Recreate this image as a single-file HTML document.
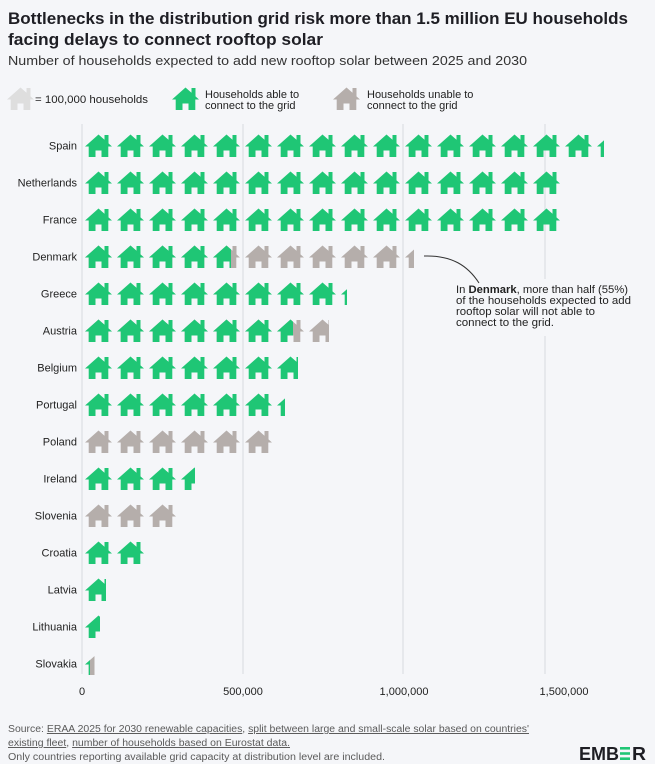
<!DOCTYPE html>
<html>
<head>
<meta charset="utf-8">
<style>
  html, body { margin: 0; padding: 0; background: #f5f6f9; }
  svg { display: block; font-family: "Liberation Sans", sans-serif; }
</style>
</head>
<body>
<svg width="655" height="764" viewBox="0 0 655 764" xmlns="http://www.w3.org/2000/svg">
  <defs>
    <path id="house" d="M0,12.5 L13.5,0.5 L19.5,5.8 L19.5,1 L23.5,1 L23.5,9.4 L27,12.5 L23.3,12.5 L23.3,23 L16.5,23 L16.5,16.5 L10.5,16.5 L10.5,23 L3.7,23 L3.7,12.5 Z"/>
    <pattern id="pg" patternUnits="userSpaceOnUse" x="85" y="0" width="32" height="23">
      <use href="#house" fill="#1fc675"/>
    </pattern>
    <pattern id="pr" patternUnits="userSpaceOnUse" x="85" y="0" width="32" height="23">
      <use href="#house" fill="#b5aeab"/>
    </pattern>
  </defs>

  <rect x="0" y="0" width="655" height="764" fill="#f5f6f9"/>

  <!-- Title -->
  <text x="8" y="24" font-size="16.5" font-weight="700" fill="#1e1e24" textLength="620" lengthAdjust="spacingAndGlyphs">Bottlenecks in the distribution grid risk more than 1.5 million EU households</text>
  <text x="8" y="45" font-size="16.5" font-weight="700" fill="#1e1e24" textLength="315" lengthAdjust="spacingAndGlyphs">facing delays to connect rooftop solar</text>
  <text x="8" y="65" font-size="13" fill="#333" textLength="519" lengthAdjust="spacingAndGlyphs">Number of households expected to add new rooftop solar between 2025 and 2030</text>

  <!-- Legend -->
  <use href="#house" fill="#dedede" transform="translate(7,87)"/>
  <text x="35" y="103" font-size="11" fill="#222" textLength="113" lengthAdjust="spacingAndGlyphs">= 100,000 households</text>
  <use href="#house" fill="#1fc675" transform="translate(172,87)"/>
  <text x="205" y="98" font-size="11" fill="#222">Households able to</text>
  <text x="205" y="109" font-size="11" fill="#222">connect to the grid</text>
  <use href="#house" fill="#b5aeab" transform="translate(333,87)"/>
  <text x="367" y="98" font-size="11" fill="#222">Households unable to</text>
  <text x="367" y="109" font-size="11" fill="#222">connect to the grid</text>

  <!-- Gridlines -->
  <g stroke="#d6d9df" stroke-width="1">
    <line x1="82" y1="124" x2="82" y2="674"/>
    <line x1="243" y1="124" x2="243" y2="674"/>
    <line x1="403" y1="124" x2="403" y2="674"/>
    <line x1="545" y1="124" x2="545" y2="674"/>
  </g>

  <!-- Country labels -->
  <g font-size="11" fill="#222" text-anchor="end">
    <text x="77" y="149.5">Spain</text>
    <text x="77" y="186.5">Netherlands</text>
    <text x="77" y="223.5">France</text>
    <text x="77" y="260.5">Denmark</text>
    <text x="77" y="297.5">Greece</text>
    <text x="77" y="334.5">Austria</text>
    <text x="77" y="371.5">Belgium</text>
    <text x="77" y="408.5">Portugal</text>
    <text x="77" y="445.5">Poland</text>
    <text x="77" y="482.5">Ireland</text>
    <text x="77" y="519.5">Slovenia</text>
    <text x="77" y="556.5">Croatia</text>
    <text x="77" y="593.5">Latvia</text>
    <text x="77" y="630.5">Lithuania</text>
    <text x="77" y="667.5">Slovakia</text>
  </g>

  <!-- House rows -->
  <g transform="translate(0,134)"><rect x="85" y="0" width="519" height="23" fill="url(#pg)"/></g>
  <g transform="translate(0,171)"><rect x="85" y="0" width="480" height="23" fill="url(#pg)"/></g>
  <g transform="translate(0,208)"><rect x="85" y="0" width="480" height="23" fill="url(#pg)"/></g>
  <g transform="translate(0,245)">
    <rect x="85" y="0" width="329" height="23" fill="url(#pr)"/>
    <rect x="85" y="0" width="146" height="23" fill="url(#pg)"/>
  </g>
  <g transform="translate(0,282)"><rect x="85" y="0" width="262" height="23" fill="url(#pg)"/></g>
  <g transform="translate(0,319)">
    <rect x="85" y="0" width="244" height="23" fill="url(#pr)"/>
    <rect x="85" y="0" width="208" height="23" fill="url(#pg)"/>
  </g>
  <g transform="translate(0,356)"><rect x="85" y="0" width="213" height="23" fill="url(#pg)"/></g>
  <g transform="translate(0,393)"><rect x="85" y="0" width="200" height="23" fill="url(#pg)"/></g>
  <g transform="translate(0,430)"><rect x="85" y="0" width="192" height="23" fill="url(#pr)"/></g>
  <g transform="translate(0,467)"><rect x="85" y="0" width="110" height="23" fill="url(#pg)"/></g>
  <g transform="translate(0,504)"><rect x="85" y="0" width="96" height="23" fill="url(#pr)"/></g>
  <g transform="translate(0,541)"><rect x="85" y="0" width="64" height="23" fill="url(#pg)"/></g>
  <g transform="translate(0,578)"><rect x="85" y="0" width="21" height="23" fill="url(#pg)"/></g>
  <g transform="translate(0,615)"><rect x="85" y="0" width="15" height="23" fill="url(#pg)"/></g>
  <g transform="translate(0,652)">
    <rect x="85" y="0" width="9.5" height="23" fill="url(#pr)"/>
    <rect x="85" y="0" width="5" height="23" fill="url(#pg)"/>
  </g>

  <!-- Annotation -->
  <rect x="450" y="279" width="190" height="57" fill="#f5f6f9"/>
  <path d="M424,256 C452,255 468,266 479,283" fill="none" stroke="#333" stroke-width="1"/>
  <g font-size="11" fill="#222">
    <text x="456" y="293" textLength="172" lengthAdjust="spacingAndGlyphs">In <tspan font-weight="700">Denmark</tspan>, more than half (55%)</text>
    <text x="456" y="304" textLength="175" lengthAdjust="spacingAndGlyphs">of the households expected to add</text>
    <text x="456" y="315" textLength="139" lengthAdjust="spacingAndGlyphs">rooftop solar will not able to</text>
    <text x="456" y="326" textLength="98" lengthAdjust="spacingAndGlyphs">connect to the grid.</text>
  </g>

  <!-- X tick labels -->
  <g font-size="11" fill="#222" text-anchor="middle">
    <text x="82" y="695">0</text>
    <text x="243" y="695">500,000</text>
    <text x="404" y="695">1,000,000</text>
    <text x="564" y="695">1,500,000</text>
  </g>

  <!-- Footer -->
  <g font-size="9.8" fill="#5a5a5a">
    <text x="8" y="732" textLength="521" lengthAdjust="spacingAndGlyphs">Source: <tspan style="text-decoration:underline">ERAA 2025 for 2030 renewable capacities</tspan>, <tspan style="text-decoration:underline">split between large and small-scale solar based on countries'</tspan></text>
    <text x="8" y="746" textLength="282" lengthAdjust="spacingAndGlyphs"><tspan style="text-decoration:underline">existing fleet</tspan>, <tspan style="text-decoration:underline">number of households based on Eurostat data.</tspan></text>
    <text x="8" y="760" textLength="377" lengthAdjust="spacingAndGlyphs">Only countries reporting available grid capacity at distribution level are included.</text>
  </g>

  <!-- EMBER logo -->
  <text x="579" y="760" font-size="18" font-weight="700" fill="#1e1e24" textLength="40" lengthAdjust="spacingAndGlyphs">EMB</text>
  <rect x="620" y="747" width="10" height="2.6" fill="#1fc675"/>
  <rect x="620" y="752.2" width="10" height="2.6" fill="#1fc675"/>
  <rect x="620" y="757.4" width="10" height="2.6" fill="#1fc675"/>
  <text x="632" y="760" font-size="18" font-weight="700" fill="#1e1e24" textLength="14" lengthAdjust="spacingAndGlyphs">R</text>
</svg>
</body>
</html>
